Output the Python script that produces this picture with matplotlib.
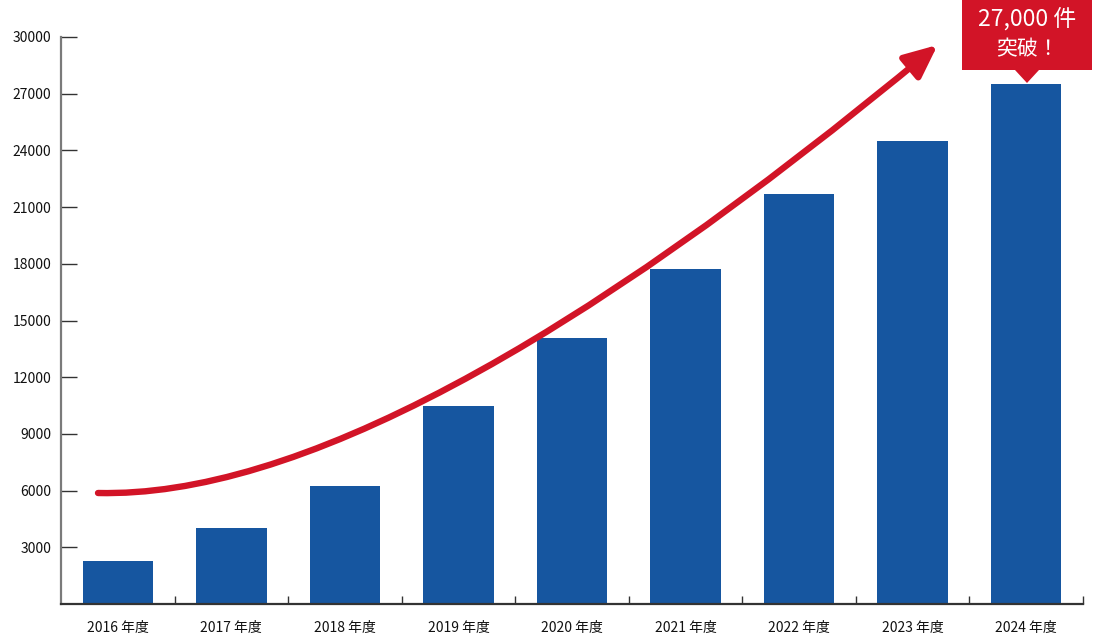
import matplotlib
matplotlib.use("Agg")
import matplotlib.pyplot as plt
from matplotlib.patches import FancyArrowPatch, Polygon
from matplotlib.path import Path
import numpy as np

plt.rcParams['font.family'] = ['Noto Sans CJK JP', 'DejaVu Sans']

years = ["2016 年度", "2017 年度", "2018 年度", "2019 年度", "2020 年度",
         "2021 年度", "2022 年度", "2023 年度", "2024 年度"]
counts = [2300, 4000, 6250, 10500, 14100, 17700, 21700, 24500, 27500]
yticks = [3000, 6000, 9000, 12000, 15000, 18000, 21000, 24000, 27000, 30000]
callout_lines = ["27,000 件", "突破！"]

BLUE = "#1656a0"
RED = "#d21427"

W, H = 1100, 640
fig = plt.figure(figsize=(W / 100, H / 100), dpi=100)
ax = fig.add_axes([61 / W, 1 - 604 / H, (1083 - 61) / W, (604 - 37) / H])

x = np.arange(len(years))
ax.bar(x, counts, width=0.62, color=BLUE, zorder=2)

ax.set_xlim(-0.5, len(years) - 0.5)
ax.set_ylim(0, 30000)

ax.spines['top'].set_visible(False)
ax.spines['right'].set_visible(False)
ax.spines['left'].set_color("#7a7a7a")
ax.spines['left'].set_linewidth(1.6)
ax.spines['bottom'].set_color("#333333")
ax.spines['bottom'].set_linewidth(1.6)

ax.set_yticks(yticks)
ax.set_yticklabels([str(v) for v in yticks])
ax.tick_params(axis='y', direction='in', length=11.5, width=1.0, color="#333333",
               pad=7, labelsize=10, labelcolor="#111111")

ax.set_xticks(x)
ax.set_xticklabels(years)
ax.tick_params(axis='x', which='major', length=0, pad=12, labelsize=10, labelcolor="#111111")
ax.set_xticks(np.arange(0.5, len(years), 1.0), minor=True)
ax.tick_params(axis='x', which='minor', direction='in', length=6, width=1.0, color="#333333")

# trend arrow: quadratic curve (start, control, end) in data coordinates
curve_pts = [(-0.174, 5873), (2.397, 5500), (7.22, 29580)]
arrow_path = Path(curve_pts, [Path.MOVETO, Path.CURVE3, Path.CURVE3])
arrow = FancyArrowPatch(path=arrow_path,
                        arrowstyle="-|>,head_length=1.0,head_width=0.45",
                        mutation_scale=20, color=RED, linewidth=4.6,
                        transform=ax.transData, zorder=3, clip_on=False)
ax.add_patch(arrow)

# callout box (figure pixel coordinates converted to fractions)
def fp(px, py):
    return (px / W, 1 - py / H)

box = Polygon([fp(962, 0), fp(1092, 0), fp(1092, 70), fp(1039, 70),
               fp(1027, 83), fp(1015, 70), fp(962, 70)],
              closed=True, facecolor=RED, edgecolor='none',
              transform=fig.transFigure, zorder=5)
fig.patches.append(box)
fig.text(1027 / W, 1 - 19 / H, callout_lines[0], color="white", fontsize=16.5,
         ha='center', va='center', zorder=6)
fig.text(1027 / W, 1 - 49 / H, callout_lines[1], color="white", fontsize=15,
         ha='center', va='center', zorder=6)

fig.savefig("out.png", dpi=100)
